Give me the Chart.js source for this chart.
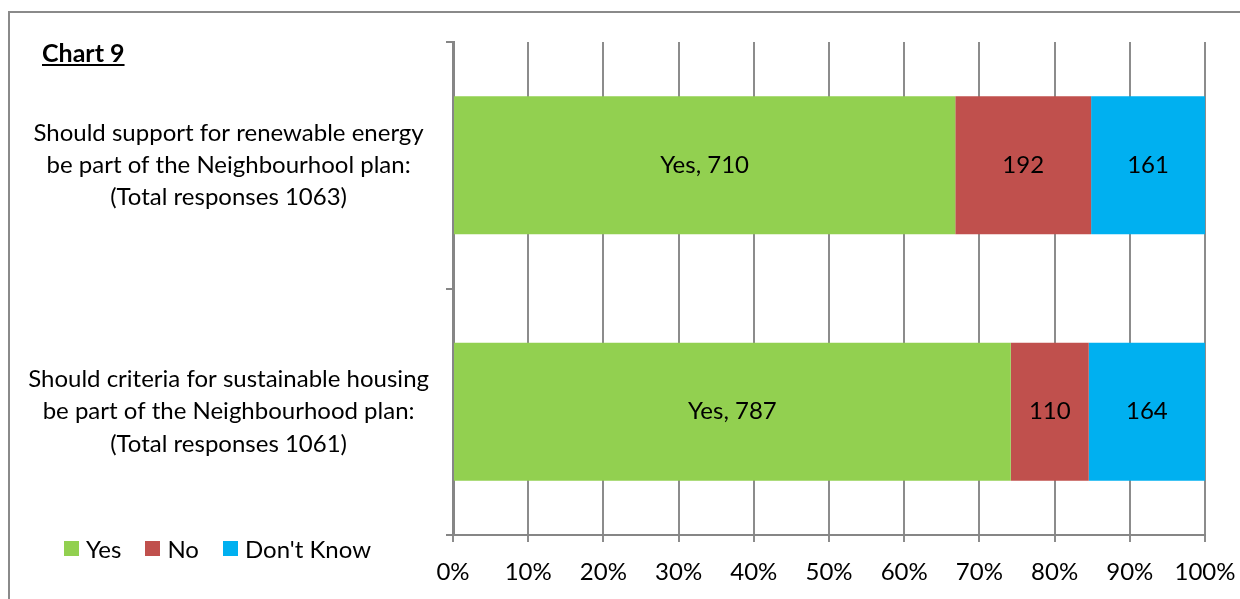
<!DOCTYPE html>
<html>
<head>
<meta charset="utf-8">
<script src="https://cdn.jsdelivr.net/npm/chart.js@4.4.1/dist/chart.umd.min.js"></script>
<style>
  body { margin: 0; background: #fff; }
  #wrap { position: relative; width: 1240px; height: 599px; overflow: hidden; }
  #frame { position: absolute; left: 8px; top: 11px; width: 1260px; height: 620px; border: 2px solid #8a8a8a; box-sizing: border-box; }
  #title { position: absolute; left: 42px; top: 37px; font: bold 25px Lato, sans-serif; text-decoration: underline; color: #000; }
  #legend { position: absolute; left: 64px; top: 534px; font: 24px Lato, sans-serif; color: #000; display: flex; align-items: center; }
  #legend span.box { display: inline-block; width: 15px; height: 15px; margin-right: 7px; }
  #legend span.item { display: flex; align-items: center; margin-right: 24px; }
  canvas { position: absolute; left: 0; top: 0; }
</style>
</head>
<body>
<div id="wrap">
  <div id="frame"></div>
  <canvas id="chartId" width="1240" height="599"></canvas>
  <div id="title">Chart 9</div>
  <div id="legend"></div>
</div>
<script>
// categories (top to bottom)
const questions = [
  ['Should support for renewable energy', 'be part of the Neighbourhool plan:', '(Total responses 1063)'],
  ['Should criteria for sustainable housing', 'be part of the Neighbourhood plan:', '(Total responses 1061)']
];

// response counts
const yesCounts = [710, 787];
const noCounts = [192, 110];
const dontKnowCounts = [161, 164];

const seriesNames = ['Yes', 'No', "Don't Know"];
const seriesColors = ['#92D050', '#C0504D', '#00B0F0'];

// x axis tick labels
const tickLabels = ['0%', '10%', '20%', '30%', '40%', '50%', '60%', '70%', '80%', '90%', '100%'];

// totals per question, used for the 100% stack
var totals = [];
for (let i = 0; i < questions.length; i++) {
  totals[i] = yesCounts[i] + noCounts[i] + dontKnowCounts[i];
}

function toPercent(arr) {
  return arr.map((v, i) => v / totals[i] * 100);
}

const countArrays = [yesCounts, noCounts, dontKnowCounts];

// labels inside the bars
const barLabels = {
  id: 'barLabels',
  afterDatasetsDraw(chart) {
    const ctx = chart.ctx;
    ctx.save();
    ctx.font = '24px Lato, sans-serif';
    ctx.fillStyle = '#000';
    ctx.textAlign = 'center';
    ctx.textBaseline = 'middle';
    chart.data.datasets.forEach((ds, d) => {
      chart.getDatasetMeta(d).data.forEach((bar, i) => {
        const p = bar.getCenterPoint();
        let txt = String(countArrays[d][i]);
        if (d == 0) txt = seriesNames[0] + ', ' + txt;
        ctx.fillText(txt, p.x, p.y);
      });
    });
    ctx.restore();
  }
};

function noPad(scale) {
  scale.paddingTop = 0;
  scale.paddingBottom = 0;
  scale.paddingLeft = 0;
  scale.paddingRight = 0;
}

var ctx = document.getElementById('chartId').getContext('2d');
var newChart = new Chart(ctx, {
  type: 'bar',
  data: {
    labels: questions,
    datasets: seriesNames.map((name, d) => ({
      label: name,
      data: toPercent(countArrays[d]),
      backgroundColor: seriesColors[d],
      barPercentage: 0.56,
      categoryPercentage: 1
    }))
  },
  options: {
    indexAxis: 'y',
    responsive: false,
    animation: false,
    layout: { padding: { top: 42, right: 35, bottom: 0, left: 0 } },
    plugins: {
      legend: { display: false },
      tooltip: { enabled: false }
    },
    scales: {
      x: {
        stacked: true,
        min: 0,
        max: 100,
        afterFit: function (scale) { scale.height = 64; noPad(scale); },
        ticks: {
          stepSize: 10,
          padding: 16,
          color: '#000',
          font: { family: 'Lato, sans-serif', size: 24 },
          callback: (v, i) => tickLabels[i]
        },
        grid: { color: '#8c8c8c', lineWidth: 2, tickLength: 7 },
        border: { color: '#868686', width: 2 }
      },
      y: {
        stacked: true,
        afterFit: function (scale) { scale.width = 453; noPad(scale); },
        ticks: {
          padding: 17,
          crossAlign: 'center',
          color: '#000',
          font: { family: 'Lato, sans-serif', size: 24, lineHeight: 1.35 }
        },
        grid: { drawOnChartArea: false, offset: true, tickLength: 7, color: '#868686', lineWidth: 2 },
        border: { color: '#868686', width: 3 }
      }
    }
  },
  plugins: [barLabels]
});

// legend
const legend = document.getElementById('legend');
for (let i = 0; i < seriesNames.length; i++) {
  const item = document.createElement('span');
  item.className = 'item';
  const box = document.createElement('span');
  box.className = 'box';
  box.style.background = seriesColors[i];
  item.appendChild(box);
  item.appendChild(document.createTextNode(seriesNames[i]));
  legend.appendChild(item);
}
</script>
</body>
</html>
